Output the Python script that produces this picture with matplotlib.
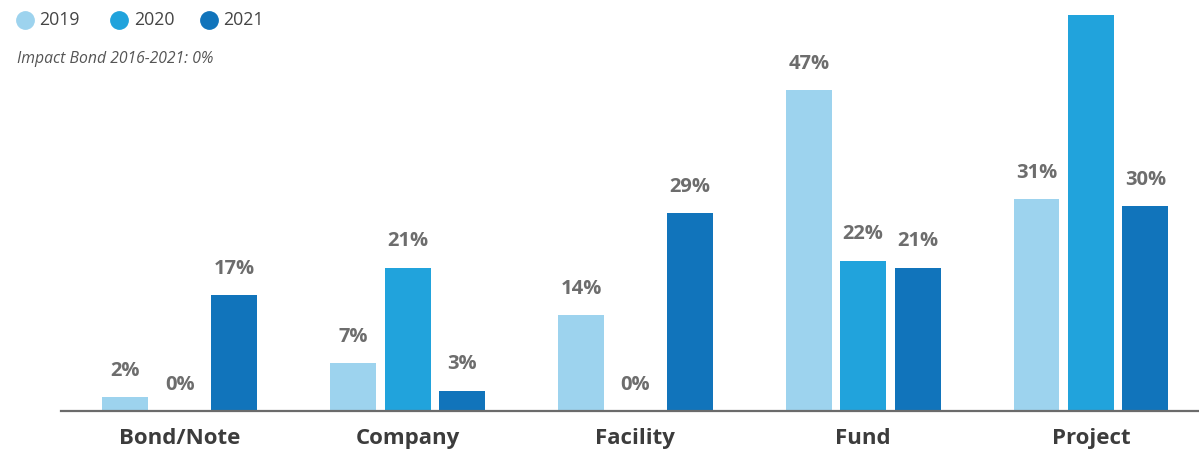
import matplotlib
matplotlib.use("Agg")
import matplotlib.pyplot as plt
from matplotlib.lines import Line2D
import numpy as np

categories = ["Bond/Note", "Company", "Facility", "Fund", "Project"]
years = ["2019", "2020", "2021"]
v2019 = [2, 7, 14, 47, 31]
v2020 = [0, 21, 0, 22, 58]
v2021 = [17, 3, 29, 21, 30]
colors = ["#9dd3ee", "#21a3dc", "#1174bb"]
note = "Impact Bond 2016-2021: 0%"

plt.rcParams['font.family'] = ['Open Sans', 'DejaVu Sans']

W, H = 1199, 453
fig = plt.figure(figsize=(W/100, H/100), dpi=100)
ax = fig.add_axes([61/W, 42/H, (1198-61)/W, 1 - 42/H])

YMAX = 60.2
x = np.arange(len(categories))
width = 0.2018
step = 0.239
series = [v2019, v2020, v2021]
for i, (vals, c) in enumerate(zip(series, colors)):
    pos = x + (i - 1) * step
    ax.bar(pos, vals, width=width, color=c, zorder=2)
    for p, v in zip(pos, vals):
        if v + 2.4 < YMAX - 2:  # label would fall outside the figure otherwise
            ax.text(p, v + 2.4, f"{v}%", ha="center", va="bottom", fontsize=14.5,
                    fontweight="bold", color="#6d6d6d")

ax.set_xlim(-0.522, 4.47)
ax.set_ylim(0, YMAX)
for s in ["top", "right", "left"]:
    ax.spines[s].set_visible(False)
ax.spines["bottom"].set_color("#6b6b6b")
ax.spines["bottom"].set_linewidth(1.6)
ax.set_yticks([])
ax.set_xticks(x)
ax.set_xticklabels(categories, fontsize=16, fontweight="bold", color="#3c3c3c")
ax.tick_params(axis="x", length=0, pad=12)

# legend
lx = [24.5, 119, 209]
tx = [39, 134, 223]
for cx, txx, c, lab in zip(lx, tx, colors, years):
    fig.add_artist(Line2D([cx/W], [1 - 20/H], marker="o", markersize=12.5,
                          color=c, linestyle="none", transform=fig.transFigure))
    fig.text(txx/W, 1 - 20/H, lab, ha="left", va="center", fontsize=12.8, color="#444444")

fig.text(17/W, 1 - 59/H, note, ha="left", va="center", fontsize=11.3,
         style="italic", color="#555555")

fig.savefig("out.png", dpi=100)
